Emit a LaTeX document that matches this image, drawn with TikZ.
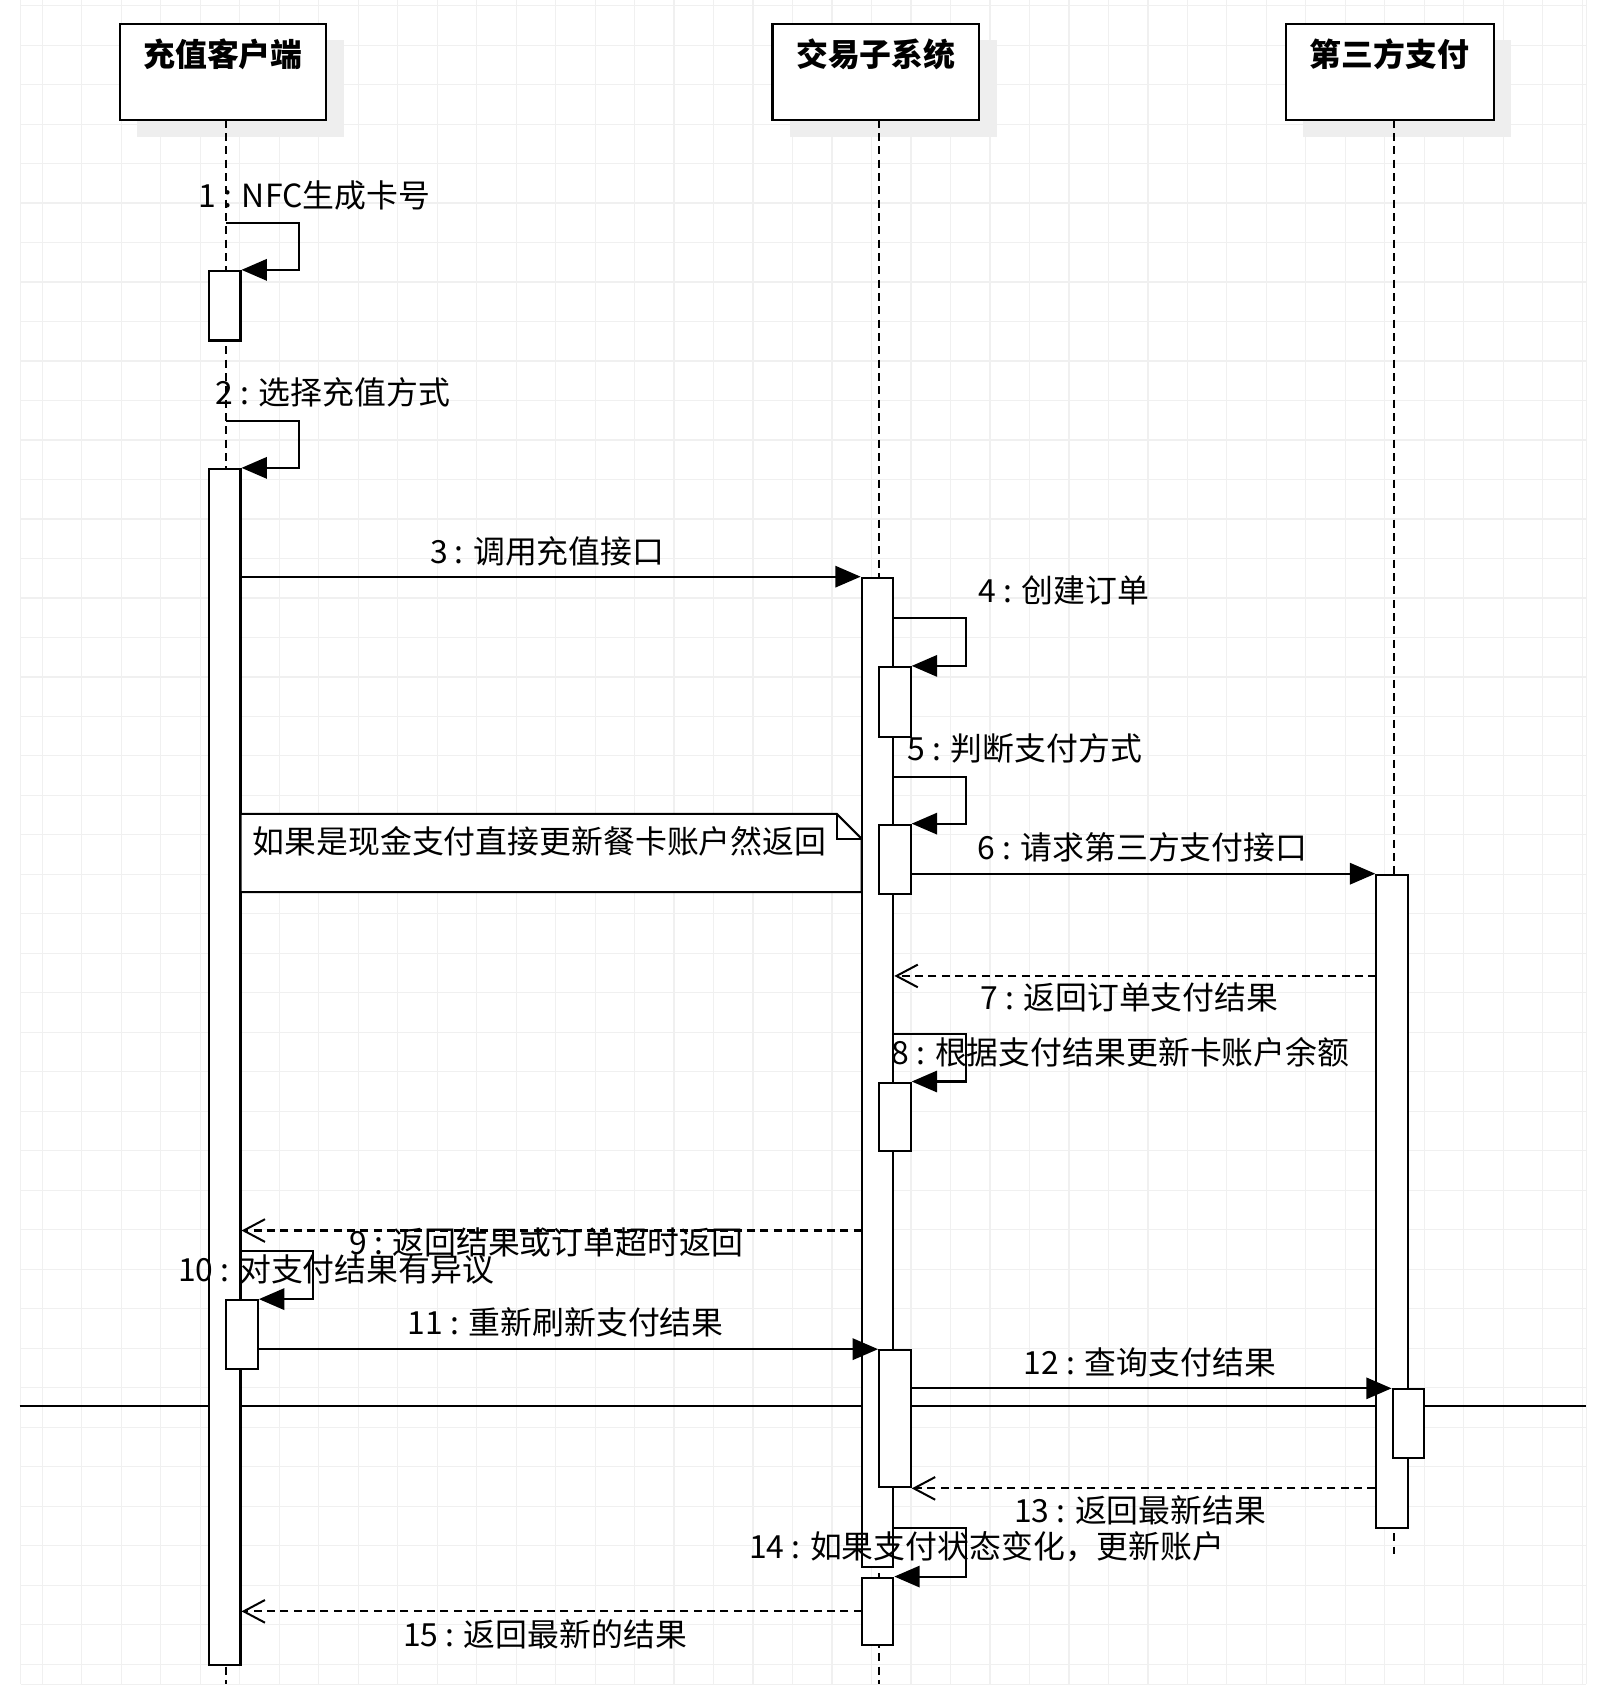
\documentclass[tikz,border=0pt]{standalone}
\usepackage{fontspec}
\setmainfont{Noto Sans CJK SC}
\usetikzlibrary{arrows.meta,fit}
\begin{document}
\begin{tikzpicture}[x=0.8159pt,y=-0.8159pt,
  gridline/.style={draw=gray!12,line width=0.8pt},
  hdr/.style={draw,line width=1.6pt,fill=white,inner sep=0pt},
  hdrtext/.style={font=\bfseries\fontsize{23.9}{28}\selectfont,inner sep=0pt},
  shadowbox/.style={fill=gray!13},
  life/.style={line width=1.4pt,dash pattern=on 6pt off 4pt},
  act/.style={draw,line width=1.6pt,fill=white,inner sep=0pt},
  msg/.style={line width=1.6pt,-{Triangle[length=19pt,width=16pt]}},
  ret/.style={line width=1.6pt,dash pattern=on 6pt off 4pt,-{Straight Barb[length=16pt,width=17pt,line width=1.5pt]}},
  lbl/.style={font=\fontsize{23.9}{28}\selectfont,inner sep=0pt},
  notebox/.style={draw,line width=1.6pt,fill=white},
  sepline/.style={line width=1.7pt}
]
% page
\fill[white] (0,0) rectangle (1481,1568);
\useasboundingbox (0,0) rectangle (1481,1568);
% grid
\foreach \k in {0,...,39} {
  \pgfmathsetmacro\gx{38.7+36.3*\k}
  \ifdim\gx pt<1458pt \draw[gridline] (\gx,0) -- (\gx,1548); \fi
}
\foreach \k in {0,...,42} {
  \pgfmathsetmacro\gy{5.1+36.3*\k}
  \ifdim\gy pt<1548pt \draw[gridline] (19,\gy) -- (1458,\gy); \fi
}
\draw[gridline] (19,0) -- (19,1548);
\draw[gridline] (1458,0) -- (1458,1548);
\draw[gridline] (19,1548) -- (1458,1548);

% separator line across
\coordinate (sepL) at (18,1292);
\coordinate (sepR) at (1458,1292);
\draw[sepline] (sepL) -- (sepR);

% header shadows
\fill[shadowbox] (126,37) rectangle (316,126);
\fill[shadowbox] (726,37) rectangle (916,126);
\fill[shadowbox] (1198,37) rectangle (1389,126);

% headers
\node[hdr,fit={(110,22) (300,110)}] (h1) {};
\node[hdr,fit={(710,22) (900,110)}] (h2) {};
\node[hdr,fit={(1182,22) (1373,110)}] (h3) {};
\node[hdrtext] (h1t) at (205,50) {充值客户端};
\node[hdrtext] (h2t) at (805,50) {交易子系统};
\node[hdrtext] (h3t) at (1277,50) {第三方支付};

% lifelines
\coordinate (l1top) at (208,110);
\coordinate (l2top) at (808,110);
\coordinate (l3top) at (1281,110);
\coordinate (l1end) at (208,1548);
\coordinate (l2end) at (808,1548);
\coordinate (l3end) at (1281,1428);
\draw[life] (l1top) -- (l1end);
\draw[life] (l2top) -- (l2end);
\draw[life] (l3top) -- (l3end);

% activation boxes
\node[act,fit={(192,249) (221,313)}] (a1) {};
\node[act,fit={(192,431) (221,1530)}] (a2) {};
\node[act,fit={(208,1195) (237,1258)}] (a3) {};
\node[act,fit={(792,531) (821,1440)}] (b1) {};
\node[act,fit={(808,613) (837,677)}] (b2) {};
\node[act,fit={(808,758) (837,822)}] (b3) {};
\node[act,fit={(808,995) (837,1058)}] (b4) {};
\node[act,fit={(808,1241) (837,1367)}] (b5) {};
\node[act,fit={(792,1450) (821,1512)}] (b6) {};
\node[act,fit={(1265,804) (1294,1404)}] (c1) {};
\node[act,fit={(1280,1277) (1309,1340)}] (c2) {};

% note
\draw[notebox] (221,748) -- (769,748) -- (792,771) -- (792,820) -- (221,820) -- cycle;
\draw[line width=1.6pt] (769,748) -- (769,771) -- (792,771);
\node[lbl,anchor=west] (note) at (232,773) {如果是现金支付直接更新餐卡账户然返回};

% message start points
\coordinate (m1s) at (208,205);
\coordinate (m2s) at (208,387);
\coordinate (m4s) at (821,568);
\coordinate (m5s) at (821,714);
\coordinate (m7s) at (1265,897);
\coordinate (m8s) at (821,950);
\coordinate (m9s) at (792,1131);
\coordinate (m10s) at (221,1150);
\coordinate (m14s) at (821,1404);
\coordinate (m15s) at (792,1481);

% messages
\draw[msg] (m1s) -- ++(67,0) |- (a1.north east);
\draw[msg] (m2s) -- ++(67,0) |- (a2.north east);
\draw[msg] (a2.east |- b1.north west) -- (b1.north west);
\draw[msg] (m4s) -- ++(67,0) |- (b2.north east);
\draw[msg] (m5s) -- ++(67,0) |- (b3.north east);
\draw[msg] (b3.east |- c1.north west) -- (c1.north west);
\draw[ret] (m7s) -- (b1.east |- m7s);
\draw[msg] (m8s) -- ++(67,0) |- (b4.north east);
\draw[ret] (m9s) -- (a2.east |- m9s);
\draw[msg] (m10s) -- ++(67,0) |- (a3.north east);
\draw[msg] (a3.east |- b5.north west) -- (b5.north west);
\draw[msg] (b5.east |- c2.north west) -- (c2.north west);
\draw[ret] (c1.west |- b5.south east) -- (b5.south east);
\draw[msg] (m14s) -- ++(67,0) |- (b6.north east);
\draw[ret] (m15s) -- (a2.east |- m15s);

% labels
\node[lbl] (t1) at (289,180) {1 : NFC生成卡号};
\node[lbl] (t2) at (306,361) {2 : 选择充值方式};
\node[lbl] (t3) at (503,507) {3 : 调用充值接口};
\node[lbl] (t4) at (978,543) {4 : 创建订单};
\node[lbl] (t5) at (942,688) {5 : 判断支付方式};
\node[lbl] (t6) at (1050,779) {6 : 请求第三方支付接口};
\node[lbl] (t7) at (1038,917) {7 : 返回订单支付结果};
\node[lbl] (t8) at (1030,967) {8 : 根据支付结果更新卡账户余额};
\node[lbl] (t9) at (502,1142) {9 : 返回结果或订单超时返回};
\node[lbl] (t10) at (309,1167) {10 : 对支付结果有异议};
\node[lbl] (t11) at (520,1215) {11 : 重新刷新支付结果};
\node[lbl] (t12) at (1057,1252) {12 : 查询支付结果};
\node[lbl] (t13) at (1048,1388) {13 : 返回最新结果};
\node[lbl] (t14) at (907,1422) {14 : 如果支付状态变化，更新账户};
\node[lbl] (t15) at (501,1502) {15 : 返回最新的结果};
\end{tikzpicture}
\end{document}
